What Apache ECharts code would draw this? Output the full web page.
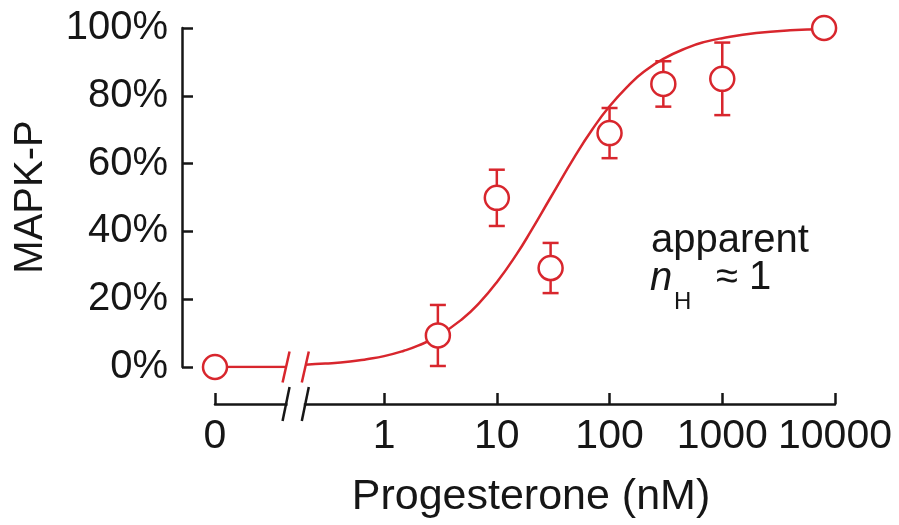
<!DOCTYPE html>
<html>
<head>
<meta charset="utf-8">
<script src="https://cdn.jsdelivr.net/npm/echarts@6/dist/echarts.min.js"></script>
<style>
  html, body { margin: 0; padding: 0; background: #fff; }
  #chart { width: 899px; height: 525px; }
</style>
</head>
<body>
<div id="chart"></div>
<script>
// measured points: concentration (nM), MAPK-P (%), error (+/- %)
const conc = [0, 3, 10, 30, 100, 300, 1000, 8000];
const mapkP = [0, 9.3, 49.9, 29.2, 69, 83.5, 85, 100];
const errBar = [0, 9, 8.3, 7.4, 7.4, 6.7, 10.7, 0];

// fitted curve (apparent nH ~ 1)
const fitConc = [0.2, 0.3, 0.5, 0.7, 1, 1.5, 2, 3, 5, 7, 10, 15, 20, 30, 50, 70, 100, 150, 200, 300, 500, 700, 1000, 2000, 4000, 8000];
const fitVal = [0.7, 1.0, 1.6, 2.3, 3.2, 4.8, 6.3, 9.1, 14.3, 18.9, 25, 33.3, 40, 50, 62.5, 70, 76.9, 83.3, 87, 90.9, 94.3, 95.9, 97, 98.5, 99.3, 99.6];

// axis break between the "0" point and the log part (nM)
const breakConc = [0.135, 0.2];

const tickConc = [0, 1, 10, 100, 1000, 10000];

const RED = '#d8262d';
const INK = '#161616';
const FONT = '"Liberation Sans", Arial, Helvetica, sans-serif';
const ZERO_X = -1.5;       // where "0" sits on the log axis
const X_OFFSET = 37;       // x axis drawn below the 0% line

const toX = c => (c === 0 ? ZERO_X : Math.log10(c));
const tickX = tickConc.map(toX);

const chart = echarts.init(document.getElementById('chart'));

function slash(cx, cy, len, style) {
  const dx = 3.5;
  return {
    type: 'line',
    shape: { x1: cx + dx, y1: cy - len / 2, x2: cx - dx, y2: cy + len / 2 },
    style: style
  };
}

const option = {
  animation: false,
  backgroundColor: '#fff',
  grid: { left: 215, right: 64, top: 28, bottom: 158 },
  xAxis: {
    type: 'value',
    min: ZERO_X,
    max: 4,
    offset: X_OFFSET,
    axisLine: { onZero: false, lineStyle: { color: INK, width: 2.5 } },
    axisTick: { inside: true, length: 11, customValues: tickX, lineStyle: { color: INK, width: 2.5 } },
    axisLabel: {
      customValues: tickX,
      margin: 12,
      color: INK,
      fontFamily: FONT,
      fontSize: 41,
      formatter: v => {
        const i = tickX.findIndex(t => Math.abs(t - v) < 1e-6);
        return i < 0 ? '' : String(tickConc[i]);
      }
    },
    splitLine: { show: false },
    name: 'Progesterone (nM)',
    nameLocation: 'middle',
    nameGap: 72,
    nameTextStyle: { color: INK, fontFamily: FONT, fontSize: 43, padding: [0, 0, 0, 12] }
  },
  yAxis: {
    type: 'value',
    min: 0,
    max: 100,
    interval: 20,
    offset: 33,
    axisLine: { show: true, onZero: false, lineStyle: { color: INK, width: 2.5 } },
    axisTick: { show: true, inside: true, length: 11, lineStyle: { color: INK, width: 2.5 } },
    axisLabel: { margin: 14, color: INK, fontFamily: FONT, fontSize: 40, formatter: v => v + '%' },
    splitLine: { show: false }
  },
  graphic: [
    {
      type: 'text', x: 31, y: 197, rotation: Math.PI / 2,
      style: { text: 'MAPK-P', fill: INK, font: '40px ' + FONT, align: 'center', verticalAlign: 'middle' }
    },
    {
      type: 'text', x: 651, y: 241,
      style: { text: 'apparent', fill: INK, font: '40px ' + FONT, align: 'left', verticalAlign: 'middle' }
    },
    {
      type: 'text', x: 650, y: 279,
      style: { text: 'n', fill: INK, font: 'italic 40px ' + FONT, align: 'left', verticalAlign: 'middle' }
    },
    {
      type: 'text', x: 674, y: 302,
      style: { text: 'H', fill: INK, font: '24px ' + FONT, align: 'left', verticalAlign: 'middle' }
    },
    {
      type: 'text', x: 716, y: 278,
      style: { text: '\u2248 1', fill: INK, font: '40px ' + FONT, align: 'left', verticalAlign: 'middle' }
    }
  ],
  series: [
    {
      // flat segment from the "0" point up to the break
      type: 'line',
      data: [[toX(0), 0], [toX(breakConc[0]), 0]],
      showSymbol: false,
      lineStyle: { color: RED, width: 2.5 },
      z: 2
    },
    {
      type: 'line',
      data: fitConc.map((c, i) => [toX(c), fitVal[i]]),
      smooth: true,
      showSymbol: false,
      lineStyle: { color: RED, width: 2.5 },
      z: 2
    },
    {
      type: 'custom',
      clip: false,
      data: conc.map((c, i) => [toX(c), mapkP[i] - errBar[i], mapkP[i] + errBar[i]]).filter((d, i) => errBar[i] > 0),
      renderItem: (params, api) => {
        const top = api.coord([api.value(0), api.value(2)]);
        const bot = api.coord([api.value(0), api.value(1)]);
        const hw = 8;
        const st = { stroke: RED, lineWidth: 2.5 };
        return {
          type: 'group',
          children: [
            { type: 'line', shape: { x1: top[0], y1: top[1], x2: bot[0], y2: bot[1] }, style: st },
            { type: 'line', shape: { x1: top[0] - hw, y1: top[1], x2: top[0] + hw, y2: top[1] }, style: st },
            { type: 'line', shape: { x1: bot[0] - hw, y1: bot[1], x2: bot[0] + hw, y2: bot[1] }, style: st }
          ]
        };
      },
      z: 3
    },
    {
      type: 'scatter',
      data: conc.map((c, i) => [toX(c), mapkP[i]]),
      symbol: 'circle',
      symbolSize: 24,
      itemStyle: { color: '#fff', borderColor: RED, borderWidth: 2.5, opacity: 1 },
      z: 5
    },
    {
      // break marks on the curve and on the x axis
      type: 'custom',
      clip: false,
      data: [[toX(breakConc[0]), toX(breakConc[1])]],
      renderItem: (params, api) => {
        const a = api.coord([api.value(0), 0]);
        const b = api.coord([api.value(1), 0]);
        const ay = a[1] + X_OFFSET;
        const red = { stroke: RED, lineWidth: 2.5 };
        const ink = { stroke: INK, lineWidth: 2.5 };
        return {
          type: 'group',
          children: [
            { type: 'rect', shape: { x: a[0] + 1.5, y: ay - 4, width: b[0] - a[0] - 3, height: 8 }, style: { fill: '#fff' } },
            slash(a[0], a[1], 31, red),
            slash(b[0], b[1], 31, red),
            slash(a[0], ay, 34, ink),
            slash(b[0], ay, 34, ink)
          ]
        };
      },
      z: 6
    }
  ]
};

chart.setOption(option);
</script>
</body>
</html>
